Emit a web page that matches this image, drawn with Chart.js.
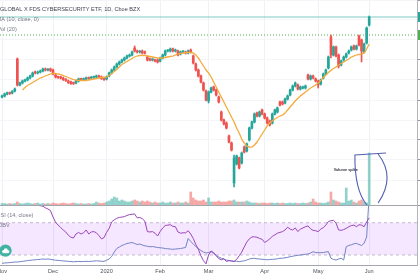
<!DOCTYPE html>
<html lang="en">
<head>
<meta charset="utf-8"/>
<title>BUG 1D</title>
<script src="https://cdn.jsdelivr.net/npm/chart.js@4.4.1/dist/chart.umd.min.js"></script>
<style>
  html, body { margin:0; padding:0; background:#fff; overflow:hidden; }
  #wrap { position:relative; width:420px; height:280px; }
  #priceChart { position:absolute; left:0; top:0; }
  #rsiChart { position:absolute; left:0; top:206px; }
</style>
</head>
<body>
<div id="wrap">
  <canvas id="priceChart" width="420" height="206"></canvas>
  <canvas id="rsiChart" width="420" height="74"></canvas>
</div>
<script>
// month ticks (trading day index of first session of the month)
const monthLabels = ['Nov','Dec','2020','Feb','Mar','Apr','May','Jun'];
const monthTicks = [0, 20, 41, 62, 81, 103, 124, 144];

// daily candles, 1 Nov 2019 .. 1 Jun 2020
const openPx = [16.12,16.16,16.24,16.28,16.28,16.36,17.64,16.60,16.68,16.76,
  16.80,16.88,16.96,17.12,17.08,17.12,17.16,17.24,17.20,17.24,
  17.20,17.00,16.92,16.92,16.88,16.82,16.76,16.72,16.68,16.68,
  16.76,16.84,16.82,16.84,16.88,16.88,16.90,16.92,16.96,16.92,
  16.88,16.84,16.96,17.08,17.20,17.32,17.44,17.52,17.60,17.68,
  17.76,17.80,18.08,17.96,17.92,17.96,17.92,17.72,17.64,17.60,
  17.60,17.60,17.56,17.68,17.80,17.96,17.96,18.04,17.96,17.96,
  17.84,17.92,17.92,17.88,18.00,17.76,17.44,17.20,16.96,16.68,
  16.36,15.96,16.32,16.52,16.40,16.12,15.52,15.20,15.08,14.56,
  14.28,12.68,13.44,13.68,13.48,14.12,13.96,14.40,14.88,15.12,
  15.48,15.36,15.60,15.44,15.28,15.16,15.08,15.44,15.52,15.92,
  15.92,15.88,16.04,16.20,16.40,16.56,16.60,16.44,16.48,16.48,
  17.00,16.84,16.96,16.84,16.76,16.64,16.88,17.04,17.28,18.52,
  17.80,18.12,17.80,17.40,17.60,17.72,17.88,18.00,18.16,18.04,
  18.56,18.40,17.92,18.28,19.00];
const highPx = [16.20,16.28,16.32,16.32,16.38,16.48,17.68,16.72,16.80,16.84,
  16.92,17.00,17.12,17.16,17.16,17.20,17.28,17.28,17.26,17.28,
  17.24,17.04,16.96,16.96,16.92,16.86,16.80,16.76,16.72,16.80,
  16.88,16.88,16.88,16.92,16.92,16.94,16.96,17.00,17.00,16.96,
  16.92,16.96,17.12,17.24,17.36,17.48,17.56,17.64,17.72,17.80,
  17.84,17.96,18.16,18.00,17.98,18.00,17.96,17.76,17.68,17.66,
  17.64,17.64,17.72,17.84,18.00,18.02,18.08,18.08,18.04,18.00,
  17.96,17.98,17.96,18.00,18.04,17.80,17.48,17.24,17.00,16.72,
  16.40,16.36,16.52,16.56,16.44,16.16,15.56,15.24,15.12,14.60,
  14.32,13.80,13.80,13.72,13.92,14.16,14.28,14.92,15.16,15.48,
  15.52,15.56,15.64,15.48,15.32,15.20,15.48,15.64,15.72,15.96,
  15.96,16.08,16.20,16.44,16.60,16.72,16.64,16.56,16.56,16.60,
  17.04,17.00,17.00,16.88,16.80,16.84,17.08,17.24,17.76,18.60,
  18.16,18.16,17.84,17.60,17.76,17.88,18.00,18.16,18.20,18.20,
  18.60,18.44,18.28,18.92,19.36];
const lowPx = [16.08,16.12,16.20,16.22,16.24,16.32,16.56,16.56,16.64,16.72,
  16.76,16.84,16.92,17.04,17.04,17.08,17.12,17.16,17.16,17.14,
  17.00,16.88,16.86,16.84,16.78,16.74,16.66,16.62,16.62,16.64,
  16.72,16.78,16.78,16.80,16.82,16.84,16.86,16.88,16.88,16.82,
  16.78,16.80,16.92,17.04,17.16,17.28,17.40,17.48,17.56,17.64,
  17.72,17.76,17.92,17.88,17.88,17.84,17.84,17.56,17.56,17.56,
  17.52,17.48,17.52,17.64,17.76,17.92,17.92,17.92,17.92,17.76,
  17.80,17.88,17.84,17.84,17.88,17.44,17.16,16.92,16.68,16.36,
  15.96,15.88,16.28,16.36,16.16,15.88,15.16,15.00,14.84,14.28,
  13.96,12.52,13.40,13.24,13.44,13.88,13.92,14.36,14.84,15.08,
  15.32,15.32,15.40,15.24,15.04,14.96,15.04,15.40,15.48,15.76,
  15.80,15.84,16.00,16.16,16.36,16.52,16.40,16.40,16.44,16.44,
  16.80,16.80,16.84,16.72,16.48,16.60,16.84,17.00,17.24,17.68,
  17.76,17.72,17.28,17.36,17.56,17.68,17.84,17.96,18.00,18.00,
  18.16,17.52,17.88,18.24,18.96];
const closePx = [16.16,16.24,16.28,16.26,16.34,16.44,16.60,16.68,16.76,16.80,
  16.88,16.96,17.08,17.08,17.12,17.16,17.24,17.20,17.22,17.18,
  17.04,16.92,16.90,16.88,16.82,16.78,16.70,16.66,16.66,16.76,
  16.84,16.82,16.84,16.88,16.86,16.90,16.92,16.96,16.92,16.86,
  16.82,16.92,17.08,17.20,17.32,17.44,17.52,17.60,17.68,17.76,
  17.80,17.92,17.96,17.92,17.94,17.88,17.88,17.60,17.60,17.62,
  17.56,17.52,17.68,17.80,17.96,17.98,18.04,17.96,18.00,17.80,
  17.92,17.94,17.88,17.96,17.92,17.48,17.20,16.96,16.72,16.40,
  16.00,16.32,16.48,16.40,16.20,15.92,15.20,15.04,14.88,14.32,
  14.00,13.68,13.76,13.28,13.88,13.92,14.24,14.88,15.12,15.44,
  15.36,15.52,15.44,15.28,15.08,15.00,15.44,15.60,15.68,15.80,
  15.84,16.04,16.16,16.40,16.56,16.68,16.44,16.52,16.52,16.56,
  16.84,16.96,16.88,16.76,16.60,16.80,17.04,17.20,17.72,17.80,
  18.12,17.76,17.36,17.56,17.72,17.84,17.96,18.12,18.04,18.16,
  18.20,17.96,18.24,18.88,19.32];

// volume, thousands of shares
const volume = [30,30,20,30,20,30,60,30,20,30,
  40,30,20,30,40,20,30,20,30,20,
  40,30,20,30,40,30,20,30,40,30,
  20,30,20,20,30,20,30,60,40,30,
  40,60,80,120,160,140,80,100,80,60,
  60,80,100,80,60,80,60,80,60,40,
  60,40,40,60,40,40,60,40,40,60,
  40,40,60,40,260,140,100,80,80,100,
  60,140,60,60,60,80,60,60,60,80,
  80,100,60,60,60,60,80,60,40,40,
  40,30,40,40,30,40,40,30,40,30,
  40,30,30,40,30,40,30,30,40,30,
  40,60,120,60,40,40,30,40,60,260,
  100,80,60,40,40,340,80,100,60,40,
  80,100,60,40,1040];

// MA (10, close)
const ma10 = [null,null,null,null,null,null,null,null,16.40,16.50,
  16.58,16.64,16.70,16.76,16.82,16.88,16.92,16.96,17.00,17.04,
  17.06,17.06,17.04,17.02,16.98,16.94,16.90,16.86,16.82,16.80,
  16.78,16.78,16.78,16.78,16.80,16.82,16.84,16.86,16.88,16.90,
  16.90,16.92,16.98,17.06,17.14,17.22,17.32,17.42,17.48,17.54,
  17.60,17.66,17.72,17.76,17.78,17.78,17.78,17.76,17.74,17.72,
  17.70,17.68,17.68,17.68,17.70,17.72,17.74,17.76,17.80,17.84,
  17.86,17.88,17.90,17.90,17.90,17.88,17.80,17.68,17.52,17.36,
  17.20,17.08,16.92,16.72,16.52,16.32,16.12,15.92,15.72,15.52,
  15.32,15.12,14.88,14.68,14.44,14.28,14.16,14.12,14.12,14.20,
  14.32,14.48,14.64,14.80,14.96,15.08,15.16,15.24,15.30,15.36,
  15.40,15.48,15.60,15.72,15.84,15.96,16.06,16.16,16.24,16.32,
  16.40,16.48,16.54,16.60,16.68,16.78,16.90,17.00,17.10,17.18,
  17.26,17.32,17.40,17.46,17.52,17.58,17.64,17.72,17.76,17.80,
  17.82,17.84,17.88,18.04,18.24];

// RSI (14, close)
const rsi14 = [null,null,null,null,null,null,null,null,null,null,
  null,null,null,92,91.5,91,90.5,88.5,87,85,
  77,70.5,67,64,61,58.5,54.5,52,51,56,
  58,56,57.5,61,56,58.5,59,57.5,54,50,
  51.5,58,63,71,73.5,75.5,76.5,77,77.5,79,
  80,80.5,80.8,76,76.5,75,72,59,58.5,59,
  57,53.5,59,63.5,66.5,67,67.5,65.5,65,58.5,
  57,57.5,57.5,60,56,50.5,43,37,29,23,
  19,30,35,33,29,25.5,24,25.5,22,23,
  22.5,22,24.5,29,33.5,40,46,50,52.3,52.5,
  52,50.5,49.5,45.5,47.5,50,53,55,57,58,
  59,61,64.5,62,61,63.5,59,62,63.5,65,
  66,62.5,60.5,60,59,62,64,67,71.5,72.5,
  73,69.5,61,60.5,61.5,63,65,66.5,67,65,
  67.5,67,65,71,76];

// OBV, thousands
const obv = [42,50,55,60,68,75,75,82,92,100,
  110,118,125,130,138,142,150,145,150,142,
  130,120,115,110,102,98,92,85,80,85,
  90,85,88,92,88,92,98,105,100,95,
  90,118,150,212,325,412,450,488,512,538,
  550,562,538,512,525,500,480,468,455,462,
  450,438,430,425,412,405,400,392,400,405,
  412,425,438,662,588,525,462,412,362,325,
  300,312,332,288,238,200,168,145,125,112,
  105,88,95,82,95,105,125,150,162,168,
  155,150,142,138,130,138,142,145,155,168,
  170,180,192,208,220,232,242,250,258,268,
  275,300,332,312,308,308,312,325,332,168,
  138,125,150,168,125,458,488,505,530,542,
  512,488,542,700,1750];

const lastPrice = 19.32;   // last close line
const prevHigh = 18.60;    // dotted high line
const rsiBand = [70, 30];

const titleText = 'GLOBAL X FDS CYBERSECURITY ETF, 1D, Cboe BZX';
const maLegend = 'MA (10, close, 0)';
const volLegend = 'Vol (20)';
const rsiLegend = 'RSI (14, close)';
const obvLegend = 'OBV';
const noteText = 'Volume spike';

// visible window of the time axis
const xStart = -0.8, xEnd = 162.75;

const up = '#26a69a', down = '#ef5350';
const fontFam = '"Liberation Sans", Arial, sans-serif';
const idx = openPx.map((_, i) => i);
const isUp = idx.map(i => closePx[i] >= openPx[i]);
const candleColor = idx.map(i => isUp[i] ? up : down);
const volColor = idx.map(i => isUp[i] ? 'rgba(38,166,154,0.5)' : 'rgba(239,83,80,0.5)');

function monthGrid(scale) {
  scale.ticks = monthTicks.map(v => ({ value: v }));
}
function hline(v) {
  return [{ x: xStart, y: v }, { x: xEnd, y: v }];
}

const overlayPrice = {
  id: 'overlayPrice',
  afterDraw(chart) {
    const { ctx, chartArea, scales } = chart;
    ctx.save();
    ctx.textBaseline = 'middle';
    ctx.font = '5.6px ' + fontFam;
    ctx.fillStyle = '#434651';
    ctx.fillText(titleText, 0, 9.2);
    ctx.fillStyle = '#787b86';
    ctx.fillText(maLegend, -3.5, 19.5);
    ctx.fillText(volLegend, -2.5, 29.2);

    // price tags cut off at the right edge
    const yl = scales.y.getPixelForValue(lastPrice);
    const yh = scales.y.getPixelForValue(prevHigh);
    ctx.fillStyle = up;
    ctx.fillRect(chartArea.right + 1, yl - 5, 4, 10);
    ctx.fillStyle = '#4caf50';
    ctx.fillRect(chartArea.right + 1, yh - 5, 4, 10);

    // hand drawn note around the last volume bar
    const xs = scales.x, yv = scales.yv;
    const px = v => xs.getPixelForValue(v);
    const py = v => yv.getPixelForValue(v);
    ctx.font = 'bold 3.8px ' + fontFam;
    ctx.fillStyle = '#2a2e39';
    ctx.textAlign = 'center';
    ctx.fillText(noteText, px(134.8), py(700));
    ctx.strokeStyle = '#5561b3';
    ctx.lineWidth = 1.1;
    ctx.beginPath();
    ctx.moveTo(px(143.1), py(0));
    ctx.quadraticCurveTo(px(138.2), py(300), px(138.4), py(1000));
    ctx.lineTo(px(150.6), py(1040));
    ctx.stroke();
    ctx.beginPath();
    ctx.moveTo(px(147.5), py(1020));
    ctx.quadraticCurveTo(px(154.5), py(560), px(147.5), py(40));
    ctx.stroke();
    ctx.restore();
  }
};

const overlayRsi = {
  id: 'overlayRsi',
  afterDraw(chart) {
    const { ctx } = chart;
    ctx.save();
    ctx.textBaseline = 'middle';
    ctx.font = '5.6px ' + fontFam;
    ctx.fillStyle = '#787b86';
    ctx.fillText(rsiLegend, -3.6, 9);
    ctx.fillText(obvLegend, -2, 19);
    // logo badge
    ctx.fillStyle = '#41b3a3';
    ctx.beginPath();
    ctx.arc(5.5, 44.6, 6.2, 0, Math.PI * 2);
    ctx.fill();
    ctx.fillStyle = '#fff';
    ctx.beginPath();
    ctx.arc(3.6, 45.6, 1.5, 0, Math.PI * 2);
    ctx.arc(5.8, 44.2, 2, 0, Math.PI * 2);
    ctx.arc(8, 45.7, 1.4, 0, Math.PI * 2);
    ctx.fill();
    ctx.fillRect(3.6, 45.4, 4.4, 1.8);
    ctx.restore();
  }
};

new Chart(document.getElementById('priceChart'), {
  type: 'bar',
  data: {
    datasets: [
      { type: 'line', label: 'MA', data: idx.map(i => ({ x: i, y: ma10[i] })),
        borderColor: '#f4aa3c', borderWidth: 1.3, pointRadius: 0, tension: 0.3, yAxisID: 'y', order: 1 },
      { label: 'body', data: idx.map(i => ({ x: i, y: [openPx[i], closePx[i]] })),
        backgroundColor: candleColor, barThickness: 2, minBarLength: 1, grouped: false, yAxisID: 'y', order: 2 },
      { label: 'wick', data: idx.map(i => ({ x: i, y: [lowPx[i], highPx[i]] })),
        backgroundColor: candleColor, barThickness: 1, grouped: false, yAxisID: 'y', order: 3 },
      { type: 'line', label: 'last', data: hline(lastPrice),
        borderColor: 'rgba(38,166,154,0.6)', borderWidth: 1, pointRadius: 0, yAxisID: 'y', order: 4 },
      { type: 'line', label: 'high', data: hline(prevHigh),
        borderColor: '#4caf50', borderWidth: 1, borderDash: [1, 2], pointRadius: 0, yAxisID: 'y', order: 4 },
      { label: 'Vol', data: idx.map(i => ({ x: i, y: volume[i] })),
        backgroundColor: volColor, barThickness: 2, grouped: false, yAxisID: 'yv', order: 5 }
    ]
  },
  options: {
    responsive: false,
    animation: false,
    events: [],
    layout: { padding: 0 },
    plugins: { legend: { display: false }, tooltip: { enabled: false } },
    scales: {
      x: {
        type: 'linear', min: xStart, max: xEnd, offset: false,
        afterBuildTicks: monthGrid,
        afterFit: s => { s.height = 1; s.paddingLeft = 0; s.paddingRight = 0; },
        ticks: { display: false },
        grid: { color: '#eef1f6', drawTicks: false, offset: false },
        border: { display: true, color: '#a3a6af' }
      },
      y: {
        position: 'right', min: 11.8, max: 20,
        afterFit: s => { s.width = 3; },
        ticks: { display: false, stepSize: 0.8 },
        grid: { color: '#f3f5f9', tickColor: '#9598a1', tickLength: 3 },
        border: { display: true, color: '#b2b5be' }
      },
      yv: { display: false, min: 0, max: 4100 }
    }
  },
  plugins: [overlayPrice]
});

new Chart(document.getElementById('rsiChart'), {
  type: 'line',
  data: {
    datasets: [
      { label: 'RSI', data: idx.map(i => ({ x: i, y: rsi14[i] })),
        borderColor: '#9b45b9', borderWidth: 1, pointRadius: 0, yAxisID: 'y', order: 1 },
      { label: 'OBV', data: idx.map(i => ({ x: i, y: obv[i] })),
        borderColor: '#7282c4', borderWidth: 1, pointRadius: 0, yAxisID: 'yo', order: 2 },
      { label: 'upper', data: hline(rsiBand[0]),
        borderColor: '#c4b6d0', borderWidth: 1, borderDash: [3, 3], pointRadius: 0, yAxisID: 'y', order: 3 },
      { label: 'lower', data: hline(rsiBand[1]), fill: { value: rsiBand[0] },
        backgroundColor: 'rgba(153,21,255,0.1)',
        borderColor: '#c4b6d0', borderWidth: 1, borderDash: [3, 3], pointRadius: 0, yAxisID: 'y', order: 3 }
    ]
  },
  options: {
    responsive: false,
    animation: false,
    events: [],
    layout: { padding: 0 },
    plugins: { legend: { display: false }, tooltip: { enabled: false } },
    scales: {
      x: {
        type: 'linear', min: xStart, max: xEnd, offset: false,
        afterBuildTicks: monthGrid,
        afterFit: s => { s.height = 15; s.paddingLeft = 0; s.paddingRight = 0; },
        ticks: {
          autoSkip: false, maxRotation: 0, padding: 3, color: '#50535e',
          font: { size: 5.6, family: fontFam },
          callback: (v, i) => monthLabels[i]
        },
        grid: { color: '#eef1f6', drawTicks: false },
        border: { display: true, color: '#a3a6af' }
      },
      y: {
        position: 'right', min: 17.6, max: 90.7,
        afterFit: s => { s.width = 3; },
        ticks: { display: false },
        grid: { display: false },
        border: { display: true, color: '#b2b5be' }
      },
      yo: { display: false, min: 0, max: 1475 }
    }
  },
  plugins: [overlayRsi]
});
</script>
</body>
</html>
